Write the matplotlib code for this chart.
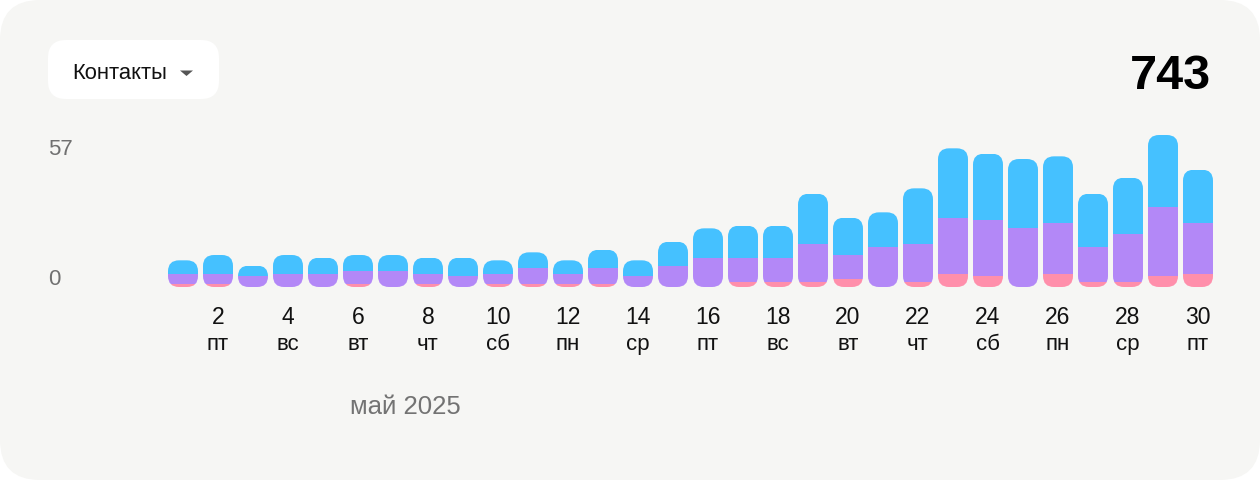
import numpy as np
import matplotlib
matplotlib.use('Agg')
import matplotlib.pyplot as plt
from matplotlib.patches import FancyBboxPatch, Polygon

plt.rcParams['font.family'] = ['Liberation Sans', 'DejaVu Sans']

# data: contacts per day, May 2025
days = list(range(1, 31))
pink = [1, 1, 0, 0, 0, 1, 0, 1, 0, 1, 1, 1, 1, 0, 0, 0, 2, 2, 2, 3, 0, 2, 5, 4, 0, 5, 2, 2, 4, 5]
purple = [4, 4, 4, 5, 5, 5, 6, 4, 4, 4, 6, 4, 6, 4, 8, 11, 9, 9, 14, 9, 15, 14, 21, 21, 22, 19, 13, 18, 26, 19]
blue = [5, 7, 4, 7, 6, 6, 6, 6, 7, 5, 6, 5, 7, 6, 9, 11, 12, 12, 19, 14, 13, 21, 26, 25, 26, 25, 20, 21, 27, 20]
weekdays = ['чт', 'пт', 'сб', 'вс', 'пн', 'вт', 'ср']  # 1 May 2025 is Thursday
total = 743
y_max_label = 57

W, H = 1260, 480
BG = '#f6f6f4'
C_BLUE = '#45c1ff'
C_PURPLE = '#b388f7'
C_PINK = '#ff8fab'

fig = plt.figure(figsize=(W / 100, H / 100), dpi=100)
fig.patch.set_facecolor('white')

def fx(px):
    return px / W

def fy(py):
    return 1 - py / H

# card background
bg = fig.add_axes([0, 0, 1, 1])
bg.set_xlim(0, W)
bg.set_ylim(H, 0)
bg.axis('off')
bg.add_patch(FancyBboxPatch((0, 0), W, H, boxstyle='round,pad=0,rounding_size=40',
                            fc=BG, ec='none'))
# dropdown
bg.add_patch(FancyBboxPatch((48, 40), 171, 59, boxstyle='round,pad=0,rounding_size=18',
                            fc='white', ec='none'))
bg.text(72, 79.3, 'Контакты', fontsize=15.8, color='#111111', va='baseline', ha='left')
bg.add_patch(Polygon([(180, 70.5), (193, 70.5), (186.5, 76)], closed=True,
                     fc='#555555', ec='none'))
bg.text(1211, 89.3, str(total), fontsize=35, fontweight='bold', color='black',
        va='baseline', ha='right')

# y labels
bg.text(60, 155.3, str(y_max_label), fontsize=16, color='#707070', va='baseline', ha='center')
bg.text(54, 285.3, '0', fontsize=16, color='#707070', va='baseline', ha='center')

# bar axes: 35 px per day, 160 px for 60 units, zero at y=287
x_left, x_right = 165.5, 1215.5
y_zero, y_top = 287, 127
ax = fig.add_axes([fx(x_left), fy(y_zero), fx(x_right - x_left), (y_zero - y_top) / H])
ax.set_xlim(0.5, 30.5)
ax.set_ylim(0, 60)
ax.axis('off')
ax.patch.set_alpha(0)

px_x = 35.0          # px per day
px_y = 160 / 60.0    # px per unit
bar_w = 30 / px_x
radius_px = 11
aspect = (1 / px_y) / (1 / px_x)

pink_a = np.array(pink)
purple_a = np.array(purple)
blue_a = np.array(blue)
tot = pink_a + purple_a + blue_a

b1 = ax.bar(days, pink_a, width=bar_w, color=C_PINK, lw=0)
b2 = ax.bar(days, purple_a, bottom=pink_a, width=bar_w, color=C_PURPLE, lw=0)
b3 = ax.bar(days, blue_a, bottom=pink_a + purple_a, width=bar_w, color=C_BLUE, lw=0)

# round the whole stack: clip each segment to a rounded box
for i, d in enumerate(days):
    h_scaled = tot[i] / aspect
    r = min(radius_px / px_x, bar_w / 2, h_scaled / 2)
    clip = FancyBboxPatch((d - bar_w / 2, 0), bar_w, tot[i],
                          boxstyle='round,pad=0,rounding_size=%f' % r,
                          mutation_aspect=aspect, fc='none', ec='none', lw=0)
    ax.add_patch(clip)
    for cont in (b1, b2, b3):
        cont[i].set_clip_path(clip)

# x tick labels (every 2nd day)
for d in days:
    if d % 2 == 0:
        xp = x_left + (d - 0.5) * px_x
        bg.text(xp, 324.3, str(d), fontsize=16.5, color='#111111', va='baseline', ha='center')
        bg.text(xp, 350, weekdays[(d - 1) % 7], fontsize=16, color='#111111',
                va='baseline', ha='center')

bg.text(405.5, 413.7, 'май 2025', fontsize=18.5, color='#737373', va='baseline', ha='center')

fig.savefig('out.png', dpi=100, facecolor='white')
